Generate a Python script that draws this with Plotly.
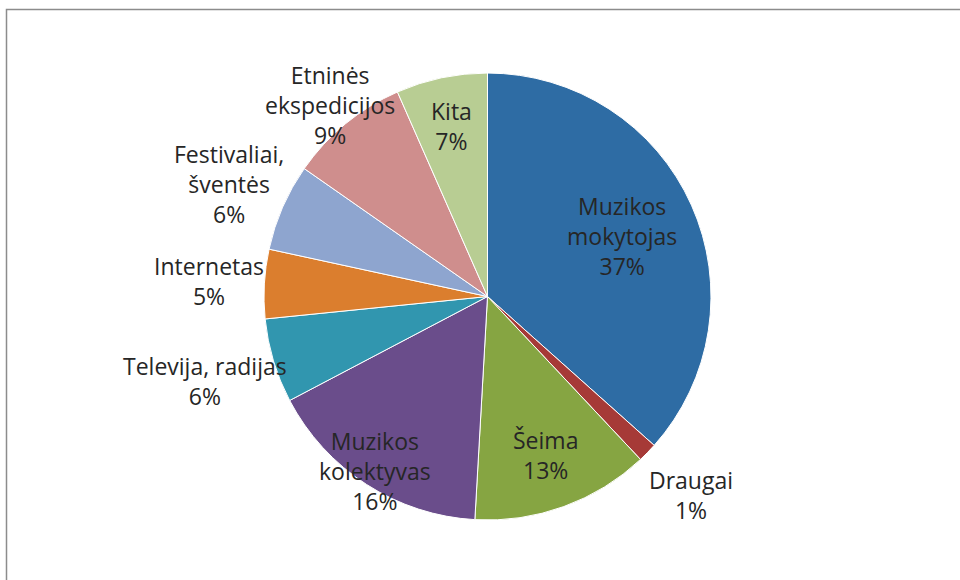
import math
import plotly.graph_objects as go

labels = ["Muzikos<br>mokytojas", "Draugai", "Šeima", "Muzikos<br>kolektyvas",
          "Televija, radijas", "Internetas", "Festivaliai,<br>šventės",
          "Etninės<br>ekspedicijos", "Kita"]
values = [36.6, 1.4, 12.9, 16.4, 6.1, 5.0, 6.3, 8.7, 6.6]
colors = ["#2E6CA4", "#A63A37", "#86A542", "#6A4D8B", "#3196AF",
          "#DB7E2E", "#8EA5CF", "#CF8E8D", "#B8CD93"]
# radial distance of each data label, as a fraction of the pie radius (style)
label_radius = [0.66, 1.27, 0.756, 0.93, 1.32, 1.25, 1.26, 1.11, 0.78]

W, H = 960, 580
dom_x = [0.275, 0.7406]
dom_y = [0.1034, 0.8741]

fig = go.Figure(go.Pie(
    labels=labels, values=values, sort=False, direction="clockwise", rotation=0,
    marker=dict(colors=colors, line=dict(color="white", width=1)),
    textinfo="none", domain=dict(x=dom_x, y=dom_y),
    showlegend=False, hoverinfo="label+percent",
))

# data labels placed along each slice's mid-angle
cx = (dom_x[0] + dom_x[1]) / 2 * W
cy = (dom_y[0] + dom_y[1]) / 2 * H
R = min((dom_x[1] - dom_x[0]) * W, (dom_y[1] - dom_y[0]) * H) / 2
total = sum(values)
cum = 0.0
for lab, v, f in zip(labels, values, label_radius):
    mid = (cum + v / 2) / total * 2 * math.pi
    cum += v
    x = cx + f * R * math.sin(mid)
    y = cy + f * R * math.cos(mid)
    pct = round(v / total * 100)
    fig.add_annotation(x=x / W, y=y / H, xref="paper", yref="paper",
                       text=f"{lab}<br>{pct}%", showarrow=False,
                       xanchor="center", yanchor="middle", align="center",
                       font=dict(family="Open Sans", size=23, color="#262626"))

fig.add_shape(type="rect", xref="paper", yref="paper",
              x0=6.5 / W, x1=1.02, y0=-0.02, y1=1 - 9.5 / H,
              line=dict(color="#8C8C8C", width=1.5))

fig.update_layout(width=W, height=H, margin=dict(l=0, r=0, t=0, b=0),
                  paper_bgcolor="white", plot_bgcolor="white")
fig.write_html("out.html", config={"displayModeBar": False},
               post_script="document.body.style.margin='0';")
